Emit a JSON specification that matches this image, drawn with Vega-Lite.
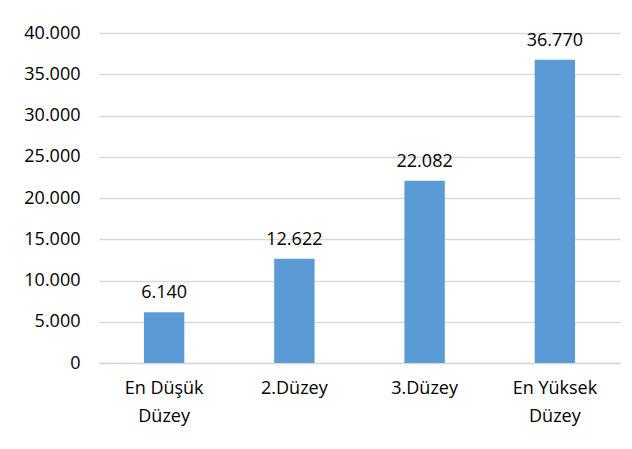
{
  "$schema": "https://vega.github.io/schema/vega-lite/v6.json",
  "width": 521,
  "height": 330,
  "autosize": {"type": "none"},
  "padding": {"left": 99, "top": 33, "right": 12, "bottom": 86},
  "background": "white",
  "config": {
    "view": {"stroke": null},
    "font": "Open Sans",
    "axis": {"labelFont": "Open Sans", "labelFontSize": 18, "labelColor": "#000000"}
  },
  "data": {
    "values": [
      {"level": "En Düşük|Düzey", "value": 6140},
      {"level": "2.Düzey", "value": 12622},
      {"level": "3.Düzey", "value": 22082},
      {"level": "En Yüksek|Düzey", "value": 36770}
    ]
  },
  "encoding": {
    "x": {
      "field": "level",
      "type": "nominal",
      "sort": null,
      "scale": {"paddingInner": 0.69, "paddingOuter": 0.345},
      "axis": {
        "title": null,
        "labelAngle": 0,
        "labelExpr": "split(datum.label, '|')",
        "labelLineHeight": 28,
        "labelPadding": 16,
        "labelBaseline": "top",
        "ticks": false,
        "domainColor": "#d9d9d9",
        "domainWidth": 1.5
      }
    },
    "y": {
      "field": "value",
      "type": "quantitative",
      "scale": {"domain": [0, 40000], "nice": false},
      "axis": {
        "title": null,
        "values": [0, 5000, 10000, 15000, 20000, 25000, 30000, 35000, 40000],
        "labelExpr": "replace(format(datum.value, ','), ',', '.')",
        "domain": false,
        "ticks": false,
        "gridColor": "#d9d9d9",
        "gridWidth": 1.5,
        "labelPadding": 19
      }
    }
  },
  "layer": [
    {"mark": {"type": "bar", "color": "#5b9bd5"}},
    {
      "transform": [
        {"calculate": "replace(format(datum.value, ','), ',', '.')", "as": "lbl"}
      ],
      "mark": {"type": "text", "baseline": "bottom", "dy": -10, "fontSize": 18, "font": "Open Sans", "color": "#000000"},
      "encoding": {
        "text": {"field": "lbl", "type": "nominal"}
      }
    }
  ]
}
